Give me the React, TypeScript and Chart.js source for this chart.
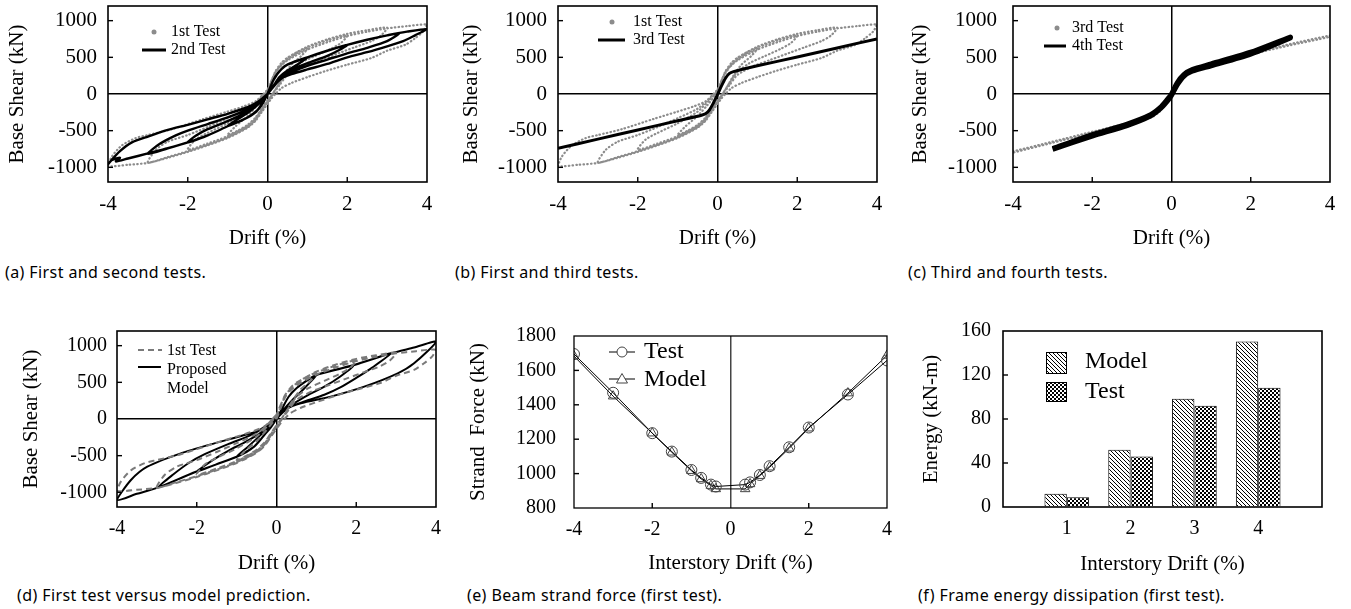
import React, { useEffect, useRef } from 'react';
import { Chart, registerables } from 'chart.js';

Chart.register(...registerables);
Chart.defaults.color = '#000';

const SERIF = '"Liberation Serif", "Times New Roman", serif';
const SANS = '"Noto Sans", "Open Sans", sans-serif';

// ---------- tick values ----------
const driftTicks = [-4, -2, 0, 2, 4];
const shearTicks = [-1000, -500, 0, 500, 1000];
const strandTicks = [800, 1000, 1200, 1400, 1600, 1800];
const energyTicks = [0, 40, 80, 120, 160];

// ---------- (f) energy dissipation ----------
const energyCategories = ['', '1', '2', '3', '4', ''];
const energyModel = [null, 12, 52, 98.5, 150.5, null];
const energyTest = [null, 8.8, 45.8, 92, 108.5, null];

// ---------- (e) strand force ----------
const strandDrift = [-4, -3, -2, -1.5, -1, -0.75, -0.5, -0.375, 0.375, 0.5, 0.75, 1, 1.5, 2, 3, 4];
const strandTest = [1695, 1470, 1235, 1128, 1021, 975, 936, 925, 936, 949, 992, 1043, 1153, 1268, 1460, 1658];
const strandModel = [1683, 1450, 1235, 1124, 1017, 969, 930, 911, 911, 940, 988, 1037, 1147, 1264, 1468, 1687];

// ---------- 1st test (drift %, base shear kN) ----------
const test1Cycle1: [number, number][] = [
  [0, 0], [0.1, 140], [0.2, 280], [0.35, 400], [0.5, 470], [0.75, 560], [1, 620], [0.85, 520], [0.6, 400], [0.4, 250],
  [0.2, 60], [0.05, -50], [-0.15, -200], [-0.3, -320], [-0.5, -420], [-0.75, -500], [-1, -560], [-0.8, -440], [-0.5, -300],
  [-0.25, -150], [0, 20],
];
const test1Cycle2: [number, number][] = [
  [0, 20], [0.1, 160], [0.2, 295], [0.35, 415], [0.5, 485], [0.75, 575], [1, 635], [1.5, 730], [2, 800], [1.85, 700],
  [1.6, 620], [1.2, 520], [0.8, 420], [0.5, 300], [0.3, 150], [0.1, -20], [-0.15, -215], [-0.3, -335], [-0.5, -435],
  [-1, -575], [-1.5, -675], [-2, -760], [-1.8, -620], [-1.5, -530], [-1, -400], [-0.5, -240], [-0.2, -80], [0, 40],
];
const test1Cycle3: [number, number][] = [
  [0, 40], [0.2, 310], [0.35, 425], [0.5, 495], [1, 645], [1.5, 745], [2, 820], [2.5, 870], [3, 905], [2.85, 800],
  [2.6, 720], [2.2, 640], [1.8, 560], [1.3, 460], [0.9, 380], [0.5, 260], [0.3, 120], [0.1, -30], [-0.15, -230],
  [-0.3, -350], [-0.5, -450], [-1, -590], [-1.5, -690], [-2, -780], [-2.5, -860], [-3, -935], [-2.8, -760], [-2.5, -650],
  [-2, -560], [-1.5, -450], [-1, -330], [-0.5, -200], [-0.2, -60], [0, 60],
];
const test1Cycle4: [number, number][] = [
  [0, 60], [0.2, 300], [0.35, 390], [0.5, 460], [1, 605], [1.5, 705], [2, 790], [2.5, 850], [3, 895], [3.5, 925],
  [4, 945], [3.9, 850], [3.7, 760], [3.45, 670], [3, 590], [2.6, 490], [2, 400], [1.5, 320], [1, 230], [0.6, 150],
  [0.35, 80], [0.2, 0], [0.1, -60], [-0.15, -250], [-0.3, -365], [-0.5, -460], [-1, -600], [-1.5, -700], [-2, -790],
  [-2.5, -870], [-3, -940], [-3.5, -965], [-4, -980], [-3.9, -850], [-3.65, -700], [-3.3, -600], [-3, -560],
  [-2.4, -480], [-1.6, -340], [-1, -240], [-0.6, -170], [-0.3, -100], [-0.1, 0], [0, 60],
];
const test1Path = [...test1Cycle1, ...test1Cycle2, ...test1Cycle3, ...test1Cycle4];

// ---------- 2nd test ----------
const test2Cycle1: [number, number][] = [
  [0, 0], [0.1, 130], [0.2, 240], [0.35, 340], [0.5, 400], [0.75, 455], [1, 500], [0.8, 420], [0.5, 320], [0.3, 230],
  [0.15, 110], [0, 0], [-0.1, -110], [-0.25, -220], [-0.5, -320], [-0.75, -385], [-1, -440], [-0.8, -360], [-0.5, -260],
  [-0.25, -150], [0, 0],
];
const test2Cycle2: [number, number][] = [
  [0, 0], [0.1, 130], [0.2, 240], [0.35, 340], [0.5, 400], [1, 500], [1.5, 590], [2, 670], [1.8, 600], [1.5, 520],
  [1, 420], [0.6, 330], [0.35, 240], [0.15, 110], [0, 0], [-0.1, -110], [-0.25, -220], [-0.5, -320], [-1, -440],
  [-1.5, -565], [-2, -660], [-1.8, -570], [-1.5, -480], [-1, -370], [-0.5, -240], [-0.25, -140], [0, 0],
];
const test2Cycle3: [number, number][] = [
  [0, 0], [0.15, 190], [0.35, 340], [0.5, 400], [1, 500], [1.5, 590], [2, 670], [2.5, 740], [3, 800], [3.3, 825],
  [3, 720], [2.5, 630], [2, 555], [1.5, 470], [1, 385], [0.6, 300], [0.35, 230], [0.15, 100], [0, 0], [-0.25, -220],
  [-0.5, -320], [-1, -440], [-1.5, -565], [-2, -660], [-2.5, -740], [-3, -815], [-2.7, -680], [-2.3, -565], [-2, -500],
  [-1.5, -410], [-1, -320], [-0.5, -210], [-0.25, -120], [0, 0],
];
const test2Cycle4: [number, number][] = [
  [0, 0], [0.15, 190], [0.35, 340], [0.5, 400], [1, 500], [1.5, 590], [2, 670], [2.5, 740], [3, 800], [3.5, 850],
  [4, 885], [3.7, 800], [3.4, 720], [3, 650], [2.5, 570], [2, 500], [1.5, 410], [1, 335], [0.6, 270], [0.35, 210],
  [0.15, 100], [0, 0], [-0.25, -220], [-0.5, -320], [-1, -440], [-1.5, -565], [-2, -660], [-2.5, -740], [-3, -810],
  [-3.5, -880], [-3.8, -920], [-3.7, -870], [-3.9, -900], [-4, -955], [-3.7, -780], [-3.4, -660], [-3, -580],
  [-2.5, -490], [-2, -420], [-1.5, -345], [-1, -270], [-0.5, -180], [-0.25, -110], [0, 0],
];
const test2Path = [...test2Cycle1, ...test2Cycle2, ...test2Cycle3, ...test2Cycle4];

// ---------- 3rd test (panel b) ----------
const test3Path: [number, number][] = [
  [-4, -740], [-3, -615], [-2, -490], [-1, -365], [-0.4, -290], [-0.3, -270], [-0.2, -215], [-0.1, -120], [0, -10],
  [0.1, 110], [0.2, 215], [0.3, 280], [0.4, 305], [1, 385], [2, 505], [3, 628], [4, 752],
];

// ---------- 3rd and 4th tests (panel c) ----------
const test3BandPath: [number, number][] = [
  [-4, -782], [-3, -650], [-2, -515], [-1, -385], [-0.5, -300], [-0.3, -220], [-0.15, -110], [0, 0], [0.15, 130],
  [0.3, 260], [0.5, 330], [1, 420], [2, 555], [3, 682], [4, 797], [4, 780], [3, 665], [2, 540], [1, 405], [0.5, 310],
  [0.3, 240], [0.15, 110], [0, -20], [-0.15, -130], [-0.3, -240], [-0.5, -315], [-1, -400], [-2, -530], [-3, -665],
  [-4, -800],
];
const test4Path: [number, number][] = [
  [-3, -745], [-2, -555], [-1.12, -409], [-0.53, -282], [-0.28, -182], [-0.11, -77], [0, 0], [0.14, 150], [0.31, 264],
  [0.52, 332], [1, 410], [2, 570], [3, 777], [3, 765], [2, 545], [1, 385], [0.52, 310], [0.31, 240], [0.14, 120],
  [0, -20], [-0.11, -100], [-0.28, -200], [-0.53, -300], [-1.12, -430], [-2, -575], [-3, -755],
];

// ---------- proposed model (panel d) ----------
const modelCycle1: [number, number][] = [
  [0, 0], [0.15, 150], [0.3, 300], [0.5, 420], [0.75, 520], [1, 600], [0.7, 420], [0.4, 260], [0.15, 110], [0, 0],
  [-0.15, -120], [-0.3, -215], [-0.56, -377], [-0.75, -450], [-1, -514], [-0.7, -370], [-0.4, -220], [-0.15, -90], [0, 0],
];
const modelCycle2: [number, number][] = [
  [0, 0], [0.15, 150], [0.3, 300], [0.5, 420], [0.75, 520], [1, 600], [1.5, 670], [1.95, 736], [1.6, 580], [1.2, 440],
  [0.8, 330], [0.4, 200], [0.15, 90], [0, 0], [-0.15, -120], [-0.3, -215], [-0.56, -377], [-1, -514], [-1.5, -615],
  [-2, -718], [-1.6, -560], [-1.2, -430], [-0.8, -320], [-0.4, -190], [-0.15, -80], [0, 0],
];
const modelCycle3: [number, number][] = [
  [0, 0], [0.3, 300], [0.5, 420], [1, 600], [1.5, 670], [1.95, 736], [2.4, 815], [2.87, 895], [2.4, 700], [2, 560],
  [1.6, 430], [1.2, 330], [0.7, 240], [0.3, 150], [0, 0], [-0.3, -215], [-0.56, -377], [-1, -514], [-2, -718],
  [-2.5, -830], [-2.98, -936], [-2.6, -760], [-2.2, -600], [-1.8, -480], [-1.2, -340], [-0.6, -210], [-0.2, -70], [0, 0],
];
const modelCycle4: [number, number][] = [
  [0, 0], [0.3, 300], [0.5, 420], [1, 600], [1.95, 736], [2.87, 895], [3.45, 975], [4, 1054], [3.45, 759], [3.04, 623],
  [2.2, 441], [1.36, 305], [0.61, 214], [0.28, 145], [0, 0], [-0.31, -218], [-0.56, -377], [-0.98, -514], [-2.02, -718],
  [-2.98, -936], [-3.5, -1020], [-4, -1104], [-3.65, -832], [-3.24, -650], [-2.4, -468], [-1.56, -332], [-0.73, -209],
  [-0.31, -127], [0, 0],
];
const modelPath = [...modelCycle1, ...modelCycle2, ...modelCycle3, ...modelCycle4];

// ---------- helpers ----------
const toXY = (pts: [number, number][]) => pts.map(([x, y]) => ({ x, y }));

type Geom = { w: number; h: number; l: number; t: number; r: number; b: number };

const titleFont = { family: SERIF, size: 21 };

function makeFramePlugin(xInner: number[], yInner: number[], frameWidth = 1.6) {
  return {
    id: 'frameTicks',
    afterDatasetsDraw(chart: any) {
      const { ctx, chartArea: a, scales } = chart;
      ctx.save();
      ctx.strokeStyle = '#000';
      ctx.lineWidth = frameWidth;
      ctx.strokeRect(a.left, a.top, a.right - a.left, a.bottom - a.top);
      ctx.lineWidth = 1.4;
      const len = 5;
      xInner.forEach((v) => {
        const px = scales.x.getPixelForValue(v);
        ctx.beginPath();
        ctx.moveTo(px, a.bottom);
        ctx.lineTo(px, a.bottom - len);
        ctx.stroke();
      });
      yInner.forEach((v) => {
        const py = scales.y.getPixelForValue(v);
        ctx.beginPath();
        ctx.moveTo(a.left, py);
        ctx.lineTo(a.left + len, py);
        ctx.stroke();
      });
      ctx.restore();
    },
  };
}

type LegendItem = {
  marker: 'dot' | 'line' | 'dash' | 'circle' | 'triangle' | 'box';
  mx: number; my: number; mx2?: number; my2?: number;
  text: string[]; tx: number; ty: number; size: number; lineGap?: number;
  color?: string; width?: number; fill?: any;
};

function makeLegendPlugin(items: LegendItem[]) {
  return {
    id: 'inlineLegend',
    afterDraw(chart: any) {
      const ctx = chart.ctx as CanvasRenderingContext2D;
      ctx.save();
      for (const it of items) {
        ctx.setLineDash([]);
        ctx.strokeStyle = it.color || '#000';
        ctx.fillStyle = it.color || '#000';
        ctx.lineWidth = it.width || 1;
        if (it.marker === 'dot') {
          ctx.beginPath();
          ctx.arc(it.mx, it.my, 2.5, 0, Math.PI * 2);
          ctx.fill();
        } else if (it.marker === 'line' || it.marker === 'dash') {
          if (it.marker === 'dash') ctx.setLineDash([6, 4]);
          ctx.beginPath();
          ctx.moveTo(it.mx, it.my);
          ctx.lineTo(it.mx2 as number, it.my);
          ctx.stroke();
        } else if (it.marker === 'circle' || it.marker === 'triangle') {
          ctx.strokeStyle = '#000';
          ctx.lineWidth = 1;
          ctx.beginPath();
          ctx.moveTo(it.mx, it.my);
          ctx.lineTo(it.mx2 as number, it.my);
          ctx.stroke();
          const cx = (it.mx + (it.mx2 as number)) / 2;
          ctx.strokeStyle = '#444';
          ctx.fillStyle = '#fff';
          ctx.beginPath();
          if (it.marker === 'circle') {
            ctx.arc(cx, it.my, 5, 0, Math.PI * 2);
          } else {
            ctx.moveTo(cx, it.my - 5.5);
            ctx.lineTo(cx + 5.5, it.my + 4);
            ctx.lineTo(cx - 5.5, it.my + 4);
            ctx.closePath();
          }
          ctx.fill();
          ctx.stroke();
        } else if (it.marker === 'box') {
          ctx.fillStyle = it.fill;
          ctx.fillRect(it.mx, it.my, (it.mx2 as number) - it.mx, (it.my2 as number) - it.my);
          ctx.strokeStyle = '#000';
          ctx.lineWidth = 1;
          ctx.strokeRect(it.mx + 0.5, it.my + 0.5, (it.mx2 as number) - it.mx - 1, (it.my2 as number) - it.my - 1);
        }
        ctx.fillStyle = '#000';
        ctx.font = `${it.size}px ${SERIF}`;
        ctx.textAlign = 'left';
        ctx.textBaseline = 'middle';
        it.text.forEach((line, i) => ctx.fillText(line, it.tx, it.ty + i * (it.lineGap || 0)));
      }
      ctx.restore();
    },
  };
}

type AxisSpec = {
  min: number; max: number; ticks: number[]; title: string;
  tickPad: number; titlePad: number; zero?: string | null; tickSize: number;
};

function fixFit(g: Geom, which: 'x' | 'y') {
  return (sc: any) => {
    if (which === 'x') sc.height = g.h - g.b;
    else sc.width = g.l;
    sc.paddingTop = 0;
    sc.paddingBottom = 0;
    sc.paddingLeft = 0;
    sc.paddingRight = 0;
  };
}

function linearAxis(g: Geom, which: 'x' | 'y', s: AxisSpec) {
  return {
    type: 'linear',
    min: s.min,
    max: s.max,
    afterBuildTicks: (sc: any) => {
      sc.ticks = s.ticks.map((v) => ({ value: v }));
    },
    afterFit: fixFit(g, which),
    grid: {
      drawTicks: false,
      lineWidth: 1.5,
      color: (c: any) => (s.zero && c.tick && c.tick.value === 0 ? s.zero : 'rgba(0,0,0,0)'),
    },
    border: { display: false },
    ticks: {
      padding: s.tickPad,
      font: { family: SERIF, size: s.tickSize },
      color: '#000',
      maxRotation: 0,
      autoSkip: false,
      callback: (v: any) => String(v),
    },
    title: {
      display: true,
      text: s.title,
      font: titleFont,
      color: '#000',
      padding: which === 'x' ? { top: 0, bottom: s.titlePad } : { top: s.titlePad, bottom: 0 },
    },
  };
}

function baseOptions(g: Geom) {
  return {
    responsive: false,
    animation: false,
    events: [],
    layout: { padding: { left: 0, top: g.t, right: g.w - g.r, bottom: 0 } },
    plugins: { legend: { display: false }, tooltip: { enabled: false } },
  };
}

function makePattern(kind: 'hatch' | 'checker') {
  const c = document.createElement('canvas');
  const s = 4;
  c.width = s;
  c.height = s;
  const x = c.getContext('2d') as CanvasRenderingContext2D;
  x.fillStyle = '#fff';
  x.fillRect(0, 0, s, s);
  x.fillStyle = '#000';
  x.strokeStyle = '#000';
  if (kind === 'hatch') {
    x.lineWidth = 1;
    for (const o of [-s, 0, s]) {
      x.beginPath();
      x.moveTo(o, 0);
      x.lineTo(o + s, s);
      x.stroke();
    }
  } else {
    x.fillRect(0, 0, 2, 2);
    x.fillRect(2, 2, 2, 2);
  }
  return x.createPattern(c, 'repeat');
}

// ---------- panel geometry ----------
const gTop: Geom = { w: 450, h: 255, l: 108, t: 6, r: 427, b: 182 };
const gTopC: Geom = { w: 451, h: 255, l: 113, t: 6, r: 430, b: 182 };
const gD: Geom = { w: 450, h: 280, l: 117, t: 31, r: 436, b: 207 };
const gE: Geom = { w: 450, h: 280, l: 124, t: 36, r: 437, b: 208 };
const gF: Geom = { w: 451, h: 280, l: 103, t: 31, r: 422, b: 207 };

const GRAY = '#8c8c8c';

function dottedGray(label: string, pts: [number, number][], order: number) {
  return {
    label,
    data: toXY(pts),
    showLine: true,
    pointRadius: 0,
    borderColor: GRAY,
    borderWidth: 2.2,
    borderDash: [0.5, 3.2],
    borderCapStyle: 'round',
    tension: 0.25,
    order,
  };
}

function solidBlack(label: string, pts: [number, number][], width: number, order: number) {
  return {
    label,
    data: toXY(pts),
    showLine: true,
    pointRadius: 0,
    borderColor: '#000',
    borderWidth: width,
    borderJoinStyle: 'round',
    tension: 0.25,
    order,
  };
}

function hystConfig(
  g: Geom,
  datasets: any[],
  legend: LegendItem[],
  yTitlePad: number,
  yTickPad: number,
  tickSize: number,
) {
  return {
    type: 'scatter',
    data: { datasets },
    options: {
      ...baseOptions(g),
      scales: {
        x: linearAxis(g, 'x', { min: -4, max: 4, ticks: driftTicks, title: 'Drift (%)', tickPad: 10, titlePad: 4, zero: '#000', tickSize }),
        y: linearAxis(g, 'y', { min: -1200, max: 1200, ticks: shearTicks, title: 'Base Shear (kN)', tickPad: yTickPad, titlePad: yTitlePad, zero: '#000', tickSize }),
      },
    },
    plugins: [makeFramePlugin([-2, 2], [-1000, -500, 500, 1000]), makeLegendPlugin(legend)],
  };
}

const configA = () =>
  hystConfig(
    gTop,
    [dottedGray('1st Test', test1Path, 2), solidBlack('2nd Test', test2Path, 2.4, 1)],
    [
      { marker: 'dot', mx: 154, my: 32, text: ['1st Test'], tx: 171, ty: 32, size: 16, color: GRAY },
      { marker: 'line', mx: 142, mx2: 166, my: 50, width: 3, text: ['2nd Test'], tx: 171, ty: 50, size: 16 },
    ],
    5,
    11,
    21,
  );

const configB = () =>
  hystConfig(
    gTop,
    [dottedGray('1st Test', test1Path, 2), solidBlack('3rd Test', test3Path, 3, 1)],
    [
      { marker: 'dot', mx: 162, my: 22, text: ['1st Test'], tx: 183, ty: 22, size: 16, color: GRAY },
      { marker: 'line', mx: 148, mx2: 175, my: 40, width: 3, text: ['3rd Test'], tx: 183, ty: 40, size: 16 },
    ],
    9,
    11,
    21,
  );

const configC = () =>
  hystConfig(
    gTopC,
    [dottedGray('3rd Test', test3BandPath, 2), solidBlack('4th Test', test4Path, 5, 1)],
    [
      { marker: 'dot', mx: 157, my: 28, text: ['3rd Test'], tx: 172, ty: 28, size: 16, color: GRAY },
      { marker: 'line', mx: 144, mx2: 166, my: 46, width: 3, text: ['4th Test'], tx: 172, ty: 46, size: 16 },
    ],
    8,
    16,
    21,
  );

const configD = () =>
  hystConfig(
    gD,
    [
      {
        label: '1st Test',
        data: toXY(test1Path),
        showLine: true,
        pointRadius: 0,
        borderColor: '#7a7a7a',
        borderWidth: 2,
        borderDash: [6, 4],
        tension: 0.25,
        order: 0,
      },
      solidBlack('Proposed Model', modelPath, 2, 1),
    ],
    [
      { marker: 'dash', mx: 138, mx2: 162, my: 50, width: 2, color: '#7a7a7a', text: ['1st Test'], tx: 167, ty: 51, size: 16 },
      { marker: 'line', mx: 138, mx2: 161, my: 67, width: 2, text: ['Proposed', 'Model'], tx: 167, ty: 70, size: 16, lineGap: 18.5 },
    ],
    19,
    10,
    20,
  );

const configE = () => ({
  type: 'scatter',
  data: {
    datasets: [
      {
        label: 'Test',
        data: strandDrift.map((x, i) => ({ x, y: strandTest[i] })),
        showLine: true,
        borderColor: '#000',
        borderWidth: 1,
        pointStyle: 'circle',
        pointRadius: 5.5,
        pointBorderColor: '#444',
        pointBorderWidth: 1,
        pointBackgroundColor: 'rgba(255,255,255,0)',
      },
      {
        label: 'Model',
        data: strandDrift.map((x, i) => ({ x, y: strandModel[i] })),
        showLine: true,
        borderColor: '#000',
        borderWidth: 1,
        pointStyle: 'triangle',
        pointRadius: 5.5,
        pointBorderColor: '#444',
        pointBorderWidth: 1,
        pointBackgroundColor: 'rgba(255,255,255,0)',
      },
    ],
  },
  options: {
    ...baseOptions(gE),
    scales: {
      x: linearAxis(gE, 'x', { min: -4, max: 4, ticks: driftTicks, title: 'Interstory Drift (%)', tickPad: 10, titlePad: 4, zero: '#444', tickSize: 20 }),
      y: linearAxis(gE, 'y', { min: 800, max: 1800, ticks: strandTicks, title: 'Strand  Force (kN)', tickPad: 18, titlePad: 16, zero: null, tickSize: 20 }),
    },
  },
  plugins: [
    makeFramePlugin([-2, 2], [1000, 1200, 1400, 1600], 1.3),
    makeLegendPlugin([
      { marker: 'circle', mx: 159, mx2: 185, my: 52, text: ['Test'], tx: 194, ty: 52, size: 24 },
      { marker: 'triangle', mx: 159, mx2: 185, my: 79, text: ['Model'], tx: 194, ty: 80, size: 24 },
    ]),
  ],
});

const configF = () => {
  const hatch = makePattern('hatch');
  const checker = makePattern('checker');
  return {
    type: 'bar',
    data: {
      labels: energyCategories,
      datasets: [
        { label: 'Model', data: energyModel, backgroundColor: hatch, borderColor: '#000', borderWidth: 1, borderSkipped: 'bottom', barPercentage: 1, categoryPercentage: 0.7 },
        { label: 'Test', data: energyTest, backgroundColor: checker, borderColor: '#000', borderWidth: 1, borderSkipped: 'bottom', barPercentage: 1, categoryPercentage: 0.7 },
      ],
    },
    options: {
      ...baseOptions(gF),
      scales: {
        x: {
          type: 'category',
          offset: false,
          afterFit: fixFit(gF, 'x'),
          grid: { display: false, drawTicks: false },
          border: { display: false },
          ticks: { padding: 10, font: { family: SERIF, size: 20 }, color: '#000', maxRotation: 0, autoSkip: false },
          title: { display: true, text: 'Interstory Drift (%)', font: titleFont, color: '#000', padding: { top: 0, bottom: 3 } },
        },
        y: linearAxis(gF, 'y', { min: 0, max: 160, ticks: energyTicks, title: 'Energy (kN-m)', tickPad: 12, titlePad: 19, zero: null, tickSize: 20 }),
      },
    },
    plugins: [
      makeFramePlugin([], [40, 80, 120], 1.6),
      makeLegendPlugin([
        { marker: 'box', mx: 146, mx2: 167, my: 52, my2: 74, fill: hatch, text: ['Model'], tx: 185, ty: 62, size: 24 },
        { marker: 'box', mx: 146, mx2: 167, my: 82, my2: 102, fill: checker, text: ['Test'], tx: 185, ty: 92, size: 24 },
      ]),
    ],
  };
};

// ---------- components ----------
type PanelProps = { left: number; top: number; g: Geom; make: () => any };

function ChartPanel({ left, top, g, make }: PanelProps) {
  const ref = useRef<HTMLCanvasElement>(null);
  useEffect(() => {
    const chart = new Chart(ref.current as HTMLCanvasElement, make());
    return () => chart.destroy();
  }, []);
  return (
    <canvas
      ref={ref}
      width={g.w}
      height={g.h}
      style={{ position: 'absolute', left, top, width: g.w, height: g.h, display: 'block' }}
    />
  );
}

const captions = [
  { text: '(a) First and second tests.', x: 5, y: 272 },
  { text: '(b) First and third tests.', x: 455, y: 272 },
  { text: '(c) Third and fourth tests.', x: 908, y: 272 },
  { text: '(d) First test versus model prediction.', x: 17, y: 595 },
  { text: '(e) Beam strand force (first test).', x: 467, y: 595 },
  { text: '(f) Frame energy dissipation (first test).', x: 918, y: 595 },
];

export default function App() {
  return (
    <div style={{ position: 'absolute', left: 0, top: 0, width: 1351, height: 609, background: '#fff', overflow: 'hidden' }}>
      <ChartPanel left={0} top={0} g={gTop} make={configA} />
      <ChartPanel left={450} top={0} g={gTop} make={configB} />
      <ChartPanel left={900} top={0} g={gTopC} make={configC} />
      <ChartPanel left={0} top={300} g={gD} make={configD} />
      <ChartPanel left={450} top={300} g={gE} make={configE} />
      <ChartPanel left={900} top={300} g={gF} make={configF} />
      {captions.map((c) => (
        <div
          key={c.text}
          style={{
            position: 'absolute',
            left: c.x,
            top: c.y - 11,
            height: 22,
            lineHeight: '22px',
            fontFamily: SANS,
            fontSize: 16,
            letterSpacing: '0.4px',
            color: '#000',
            whiteSpace: 'nowrap',
          }}
        >
          {c.text}
        </div>
      ))}
    </div>
  );
}
